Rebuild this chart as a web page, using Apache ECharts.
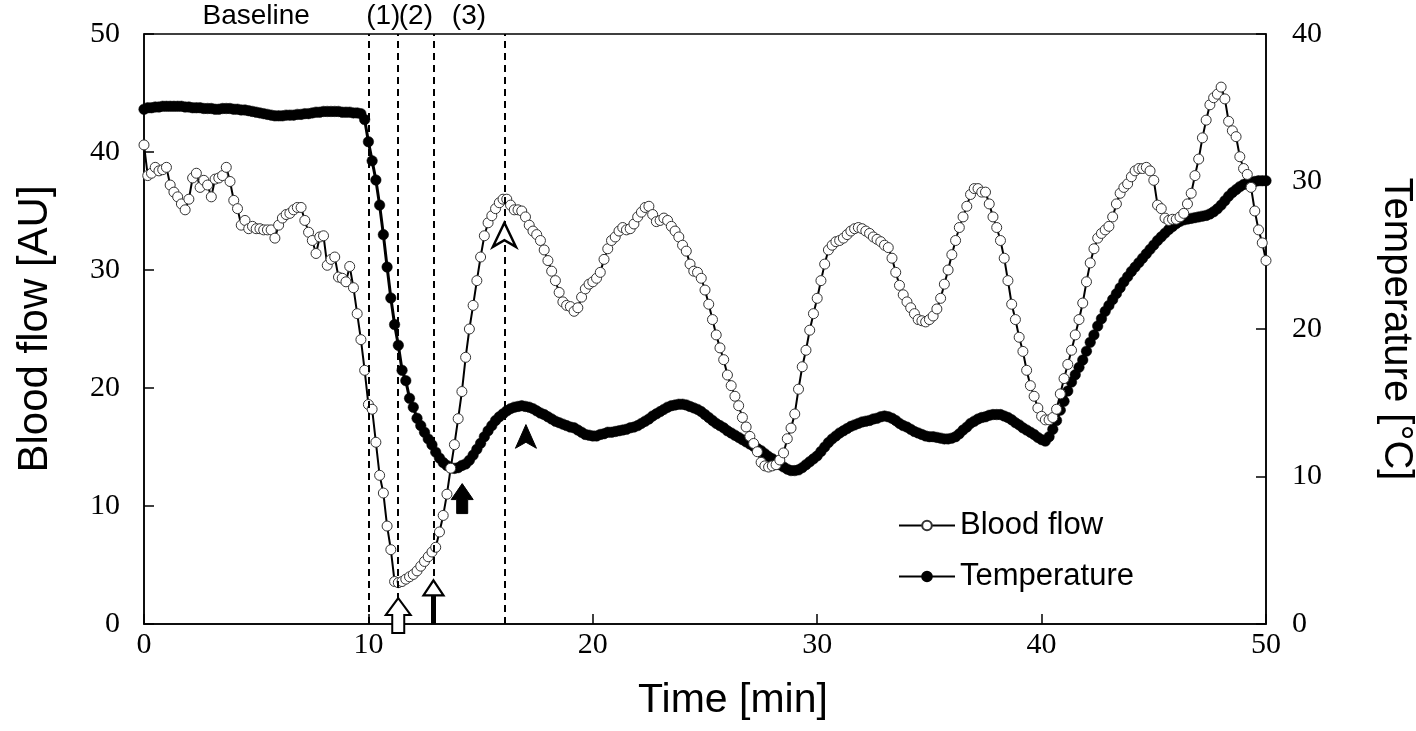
<!DOCTYPE html>
<html><head><meta charset="utf-8">
<script src="https://cdn.jsdelivr.net/npm/echarts@6/dist/echarts.min.js"></script>
<style>html,body{margin:0;padding:0;background:#fff}#c{width:1416px;height:731px}</style>
</head><body><div id="c"></div>
<script>
// sampling step of the recording: 10 s = 1/6 min
const sampleStepMin = 1 / 6;

// Blood flow [AU], one value every 10 s from 0 to 50 min
const bloodFlow = [
40.6,38.0,38.2,38.7,38.4,38.5,38.7,37.2,36.6,36.2,
35.6,35.1,36.0,37.8,38.2,37.0,37.6,37.2,36.2,37.7,
37.8,38.0,38.7,37.5,35.9,35.2,33.8,34.2,33.5,33.7,
33.5,33.5,33.4,33.4,33.4,32.7,33.8,34.4,34.7,34.8,
35.1,35.3,35.3,34.2,33.2,32.5,31.4,32.8,32.9,30.4,
30.9,31.1,29.4,29.3,29.0,30.3,28.5,26.3,24.1,21.5,
18.6,18.2,15.4,12.6,11.1,8.3,6.3,3.6,3.5,3.6,
3.8,4.0,4.2,4.5,4.9,5.3,5.7,6.1,6.5,7.8,
9.2,11.0,13.2,15.2,17.4,19.7,22.6,25.0,27.0,29.1,
31.1,32.9,34.0,34.6,35.2,35.7,36.0,36.0,35.5,35.1,
35.1,35.0,34.5,33.8,33.3,33.0,32.5,31.7,30.8,29.9,
29.1,28.1,27.3,27.0,26.9,26.5,26.8,27.7,28.4,28.8,
29.0,29.3,29.8,30.9,31.8,32.5,32.8,33.3,33.6,33.4,
33.5,33.9,34.5,34.9,35.3,35.4,34.7,34.1,34.2,34.4,
34.2,33.7,33.3,32.8,32.1,31.6,30.5,29.9,29.8,29.3,
28.3,27.1,25.8,24.5,23.4,22.4,21.1,20.2,19.3,18.5,
17.5,16.7,15.9,15.3,14.6,13.7,13.4,13.3,13.4,13.5,
13.9,14.5,15.7,16.6,17.8,19.9,21.8,23.2,24.9,26.3,
27.6,29.1,30.5,31.7,32.1,32.4,32.5,32.7,33.0,33.3,
33.5,33.6,33.5,33.3,33.1,32.8,32.6,32.4,32.1,31.9,
31.0,29.8,28.7,27.9,27.3,26.8,26.3,25.8,25.7,25.6,
25.8,26.1,26.7,27.6,28.8,30.0,31.3,32.5,33.6,34.5,
35.4,36.4,36.9,36.9,36.6,36.6,35.6,34.5,33.6,32.5,
31.0,29.1,27.1,25.8,24.3,23.1,21.5,20.2,19.3,18.3,
17.6,17.3,17.3,17.5,18.2,19.5,20.8,22.0,23.2,24.5,
25.8,27.2,29.0,30.6,31.8,32.7,33.1,33.4,33.7,34.5,
35.6,36.5,37.0,37.3,37.9,38.4,38.6,38.6,38.7,38.4,
37.6,35.5,35.2,34.4,34.2,34.3,34.3,34.5,34.8,35.6,
36.5,38.0,39.4,41.2,42.7,44.0,44.6,44.9,45.5,44.5,
42.6,41.8,41.3,39.6,38.6,38.1,37.0,35.0,33.4,32.3,
30.8
];

// Temperature [°C], same time base
const temperature = [
34.9,35.0,35.0,35.05,35.05,35.1,35.1,35.1,35.1,35.1,
35.1,35.05,35.05,35.0,35.0,35.0,34.95,34.95,34.95,34.9,
34.9,34.95,34.95,34.95,34.9,34.9,34.85,34.85,34.8,34.75,
34.7,34.65,34.6,34.55,34.5,34.45,34.45,34.45,34.5,34.5,
34.5,34.55,34.55,34.6,34.6,34.65,34.7,34.7,34.75,34.75,
34.75,34.75,34.75,34.7,34.7,34.7,34.65,34.65,34.6,34.2,
32.7,31.4,30.1,28.4,26.4,24.2,22.1,20.3,18.9,17.2,
16.5,15.3,14.7,13.95,13.45,13.0,12.55,12.15,11.65,11.25,
10.95,10.75,10.6,10.55,10.6,10.75,10.85,11.1,11.45,11.85,
12.25,12.7,13.1,13.45,13.8,14.05,14.25,14.45,14.6,14.7,
14.75,14.8,14.75,14.7,14.6,14.45,14.3,14.2,14.05,13.9,
13.75,13.65,13.55,13.45,13.35,13.3,13.15,13.0,12.85,12.8,
12.75,12.75,12.85,12.9,13.0,13.0,13.05,13.1,13.15,13.2,
13.3,13.35,13.45,13.6,13.75,13.9,14.1,14.25,14.4,14.55,
14.7,14.8,14.85,14.9,14.9,14.85,14.75,14.65,14.55,14.4,
14.2,14.0,13.8,13.6,13.45,13.3,13.1,12.95,12.8,12.65,
12.5,12.35,12.2,12.05,11.9,11.75,11.55,11.35,11.2,11.0,
10.8,10.65,10.5,10.4,10.4,10.45,10.6,10.8,11.0,11.2,
11.4,11.7,12.0,12.3,12.55,12.75,12.95,13.1,13.25,13.4,
13.5,13.6,13.7,13.75,13.8,13.9,13.95,14.05,14.1,14.05,
13.95,13.8,13.6,13.45,13.35,13.2,13.05,12.95,12.85,12.75,
12.7,12.7,12.65,12.6,12.55,12.55,12.6,12.7,12.9,13.15,
13.35,13.6,13.75,13.9,14.0,14.05,14.15,14.2,14.2,14.2,
14.1,14.0,13.85,13.65,13.5,13.3,13.15,13.0,12.85,12.65,
12.5,12.4,12.7,13.2,13.8,14.5,15.1,15.8,16.4,16.9,
17.4,17.9,18.5,19.1,19.6,20.2,20.7,21.2,21.6,22.0,
22.4,22.8,23.2,23.55,23.9,24.2,24.5,24.8,25.1,25.4,
25.7,26.0,26.25,26.5,26.75,26.95,27.15,27.3,27.4,27.45,
27.5,27.55,27.6,27.65,27.7,27.8,27.95,28.15,28.4,28.7,
29.0,29.25,29.45,29.65,29.8,29.9,29.95,30.0,30.05,30.05,
30.05
];

// protocol phases (min): baseline, (1), (2), (3)
const phaseBounds = [0, 10, 11.33, 12.9, 16.06];
const phaseLabels = ['Baseline', '(1)', '(2)', '(3)'];

// arrow annotations anchored at [time, blood flow] of their tip
const arrowMarks = [
  { shape: 'openBlock', t: 11.33, v: 2.2 },
  { shape: 'thinArrow', t: 12.9, v: 3.7 },
  { shape: 'solidBlock', t: 14.18, v: 11.9 },
  { shape: 'openHead', t: 16.06, v: 34.0 },
  { shape: 'solidHead', t: 17.02, v: 16.9 }
];

const flowPts = bloodFlow.map((v, i) => [i * sampleStepMin, v]);
const tempPts = temperature.map((v, i) => [i * sampleStepMin, v]);

const serif = '"Liberation Serif","Times New Roman",serif';
const sans = '"Liberation Sans",Arial,sans-serif';
const black = '#000';

const chart = echarts.init(document.getElementById('c'), null, { renderer: 'canvas' });

chart.setOption({
  animation: false,
  backgroundColor: '#fff',
  grid: {
    left: 144, right: 150, top: 34, bottom: 107, containLabel: false, outerBoundsMode: 'none',
    show: true, borderColor: black, borderWidth: 1.5, backgroundColor: 'transparent'
  },
  legend: {
    orient: 'vertical', left: 893, top: 505, itemWidth: 56, itemHeight: 12, itemGap: 20,
    data: ['Blood flow', 'Temperature'],
    textStyle: { fontFamily: sans, fontSize: 31, color: black }
  },
  xAxis: {
    type: 'value', min: 0, max: 50, interval: 10,
    name: 'Time [min]', nameLocation: 'middle', nameGap: 56,
    nameTextStyle: { fontFamily: sans, fontSize: 41, color: black, padding: [0, 0, 0, 56] },
    axisLine: { show: true, lineStyle: { color: black, width: 1.5 } },
    axisTick: { show: true, inside: true, length: 10, lineStyle: { color: black, width: 1.5 } },
    axisLabel: { fontFamily: serif, fontSize: 30, color: black, margin: 6 },
    splitLine: { show: false }
  },
  yAxis: [
    {
      type: 'value', min: 0, max: 50, interval: 10, position: 'left',
      name: 'Blood flow [AU]', nameLocation: 'middle', nameGap: 88, nameRotate: 90,
      nameTextStyle: { fontFamily: sans, fontSize: 42, color: black },
      axisLine: { show: true, lineStyle: { color: black, width: 1.5 } },
      axisTick: { show: true, inside: true, length: 10, lineStyle: { color: black, width: 1.5 } },
      axisLabel: { fontFamily: serif, fontSize: 30, color: black, margin: 24 },
      splitLine: { show: false }
    },
    {
      type: 'value', min: 0, max: 40, interval: 10, position: 'right',
      name: 'Temperature [°C]', nameLocation: 'middle', nameGap: 110, nameRotate: -90,
      nameTextStyle: { fontFamily: sans, fontSize: 40, color: black },
      axisLine: { show: true, lineStyle: { color: black, width: 1.5 } },
      axisTick: { show: true, inside: true, length: 10, lineStyle: { color: black, width: 1.5 } },
      axisLabel: { fontFamily: serif, fontSize: 30, color: black, margin: 26 },
      splitLine: { show: false }
    }
  ],
  series: [
    {
      name: 'Temperature', type: 'line', yAxisIndex: 1, data: tempPts,
      symbol: 'circle', symbolSize: 10.5, showAllSymbol: true,
      lineStyle: { color: black, width: 3 },
      itemStyle: { color: black, borderColor: black, borderWidth: 0.5 },
      z: 2,
      markLine: {
        silent: true, symbol: 'none', label: { show: false },
        lineStyle: { color: black, width: 2, type: [7, 5] },
        data: phaseBounds.slice(1).map(b => ({ xAxis: b }))
      }
    },
    {
      name: 'Blood flow', type: 'line', yAxisIndex: 0, data: flowPts,
      symbol: 'circle', symbolSize: 10, showAllSymbol: true,
      lineStyle: { color: black, width: 2 },
      itemStyle: { color: '#fff', borderColor: '#333', borderWidth: 1 },
      z: 3
    }
  ]
});

function toPx(t, v) { return chart.convertToPixel({ xAxisIndex: 0, yAxisIndex: 0 }, [t, v]); }

function arrowGraphic(m) {
  const [x, y] = toPx(m.t, m.v);
  const P = pts => pts.map(p => [x + p[0], y + p[1]]);
  const poly = (pts, style) => ({ type: 'polygon', z: 100, shape: { points: P(pts) }, style });
  switch (m.shape) {
    case 'openBlock':
      return [poly([[0,0],[12.5,17],[6,17],[6,35],[-6,35],[-6,17],[-12.5,17]], { fill: '#fff', stroke: black, lineWidth: 2 })];
    case 'thinArrow':
      return [
        { type: 'rect', z: 100, shape: { x: x - 2.5, y: y + 13, width: 5, height: 31 }, style: { fill: black } },
        poly([[0,0],[10,15],[-10,15]], { fill: '#fff', stroke: black, lineWidth: 2.2 })
      ];
    case 'solidBlock':
      return [poly([[0,0],[11,16],[5.5,16],[5.5,30],[-5.5,30],[-5.5,16],[-11,16]], { fill: black, stroke: black, lineWidth: 1 })];
    case 'openHead':
      return [poly([[0,0],[11.5,24],[0,17.3],[-11.5,24]], { fill: '#fff', stroke: black, lineWidth: 2.5 })];
    case 'solidHead':
      return [poly([[0,0],[10.5,23.7],[0,17.7],[-10.5,23.7]], { fill: black, stroke: black, lineWidth: 1 })];
  }
  return [];
}

const graphics = [];
arrowMarks.forEach(m => graphics.push(...arrowGraphic(m)));
phaseLabels.forEach((lab, i) => {
  const mid = (phaseBounds[i] + phaseBounds[i + 1]) / 2;
  const [x, yTop] = toPx(mid, 50);
  graphics.push({
    type: 'text', z: 100, x: x, y: yTop - 18,
    style: { text: lab, fontFamily: sans, fontSize: 28, fill: black, align: 'center', verticalAlign: 'middle' }
  });
});
chart.setOption({ graphic: graphics });
</script>
</body></html>
